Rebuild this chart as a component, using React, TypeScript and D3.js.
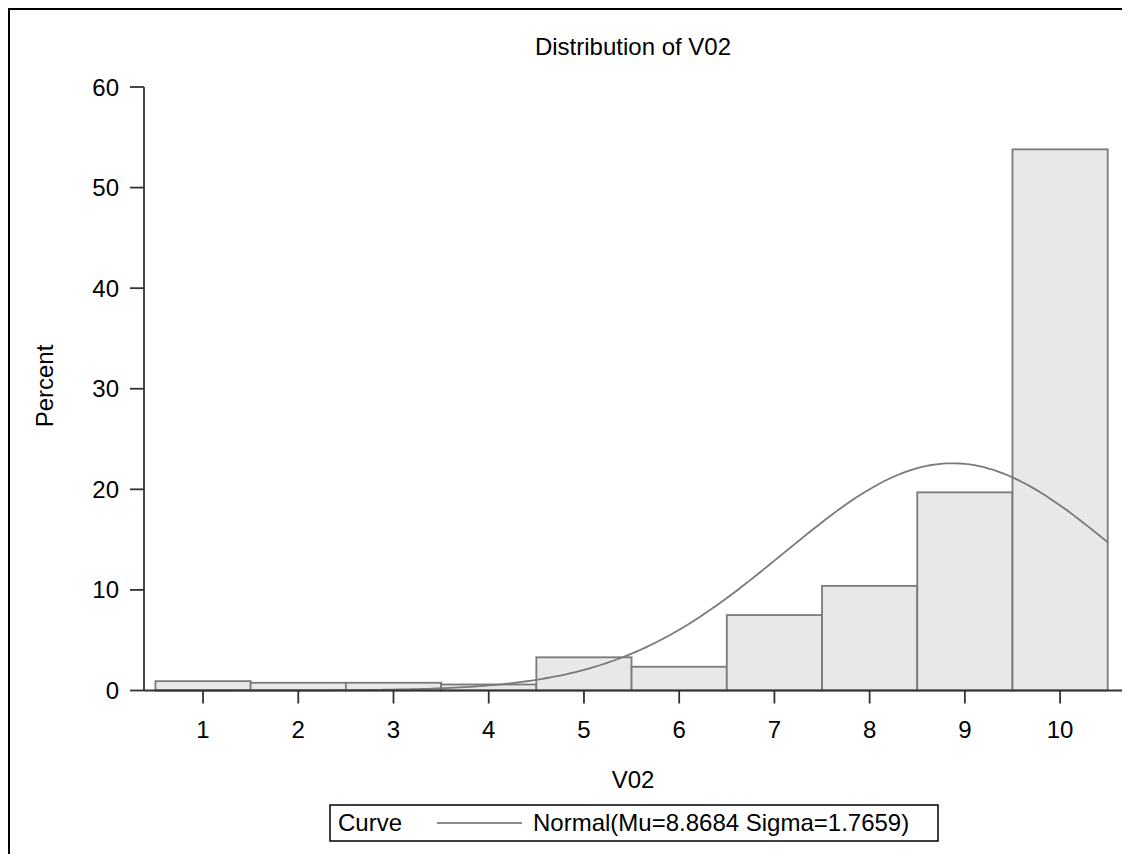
import React from "react";
import * as d3 from "d3";

const categories = [1, 2, 3, 4, 5, 6, 7, 8, 9, 10];
const percents = [0.93, 0.77, 0.77, 0.6, 3.3, 2.36, 7.5, 10.4, 19.7, 53.8];
const yTicks = [0, 10, 20, 30, 40, 50, 60];
const mu = 8.8684;
const sigma = 1.7659;
const title = "Distribution of V02";
const xLabel = "V02";
const yLabel = "Percent";
const legendTitle = "Curve";
const legendLabel = "Normal(Mu=8.8684 Sigma=1.7659)";

const W = 1122;
const H = 846;
const OX = 8, OY = 8; // page offset

export default function App() {
  const x = d3.scaleLinear().domain([0.38, 10.65]).range([144 - OX, 1122 - OX]);
  const y = d3.scaleLinear().domain([0, 60]).range([690.5 - OY, 87 - OY]);
  const curvePts: [number, number][] = d3.range(0.5, 10.5001, 0.05).map((v) => [
    v,
    (100 / (sigma * Math.sqrt(2 * Math.PI))) * Math.exp(-0.5 * ((v - mu) / sigma) ** 2),
  ]);
  const line = d3.line<[number, number]>().x((d) => x(d[0])).y((d) => y(d[1]));
  const font = "'Liberation Sans', Arial, sans-serif";
  const fs = 24;
  const x0 = x.range()[0];
  const cx = (x.range()[0] + x.range()[1]) / 2;
  return (
    <svg width={W} height={H} style={{ display: "block", fontFamily: font }}>
      <rect x={0} y={0} width={W} height={H} fill="#fff" />
      <rect x={1} y={1} width={W + 20} height={H + 20} fill="none" stroke="#000" strokeWidth={2} />
      <text x={cx} y={55 - OY} textAnchor="middle" fontSize={fs} fill="#000">{title}</text>
      {categories.map((c, i) => (
        <rect key={c} x={x(c - 0.5)} y={y(percents[i])} width={x(c + 0.5) - x(c - 0.5)}
          height={y(0) - y(percents[i])} fill="#e8e8e8" stroke="#7a7a7a" strokeWidth={1.8} />
      ))}
      <path d={line(curvePts) || ""} fill="none" stroke="#7a7a7a" strokeWidth={1.8} />
      {/* y axis */}
      <line x1={x0} x2={x0} y1={y(60)} y2={y(0)} stroke="#333" strokeWidth={1.8} />
      {yTicks.map((t) => (
        <g key={t}>
          <line x1={x0 - 14} x2={x0} y1={y(t)} y2={y(t)} stroke="#333" strokeWidth={1.8} />
          <text x={x0 - 25} y={y(t) + 8.5} textAnchor="end" fontSize={fs} fill="#000">{t}</text>
        </g>
      ))}
      {/* x axis */}
      <line x1={x0} x2={x.range()[1]} y1={y(0)} y2={y(0)} stroke="#333" strokeWidth={1.8} />
      {categories.map((c) => (
        <g key={c}>
          <line x1={x(c)} x2={x(c)} y1={y(0)} y2={y(0) + 13} stroke="#333" strokeWidth={1.8} />
          <text x={x(c)} y={738 - OY} textAnchor="middle" fontSize={fs} fill="#000">{c}</text>
        </g>
      ))}
      <text x={cx} y={788 - OY} textAnchor="middle" fontSize={fs} fill="#000">{xLabel}</text>
      <text transform={`translate(${53 - OX},${386 - OY}) rotate(-90)`} textAnchor="middle" fontSize={fs} fill="#000">{yLabel}</text>
      {/* legend */}
      <rect x={330 - OX} y={805 - OY} width={608} height={36} fill="#fff" stroke="#000" strokeWidth={1.5} />
      <text x={338 - OX} y={831 - OY} fontSize={fs} fill="#000">{legendTitle}</text>
      <line x1={437 - OX} x2={522 - OX} y1={823 - OY} y2={823 - OY} stroke="#8a8a8a" strokeWidth={1.8} />
      <text x={533 - OX} y={831 - OY} fontSize={fs} fill="#000">{legendLabel}</text>
    </svg>
  );
}
